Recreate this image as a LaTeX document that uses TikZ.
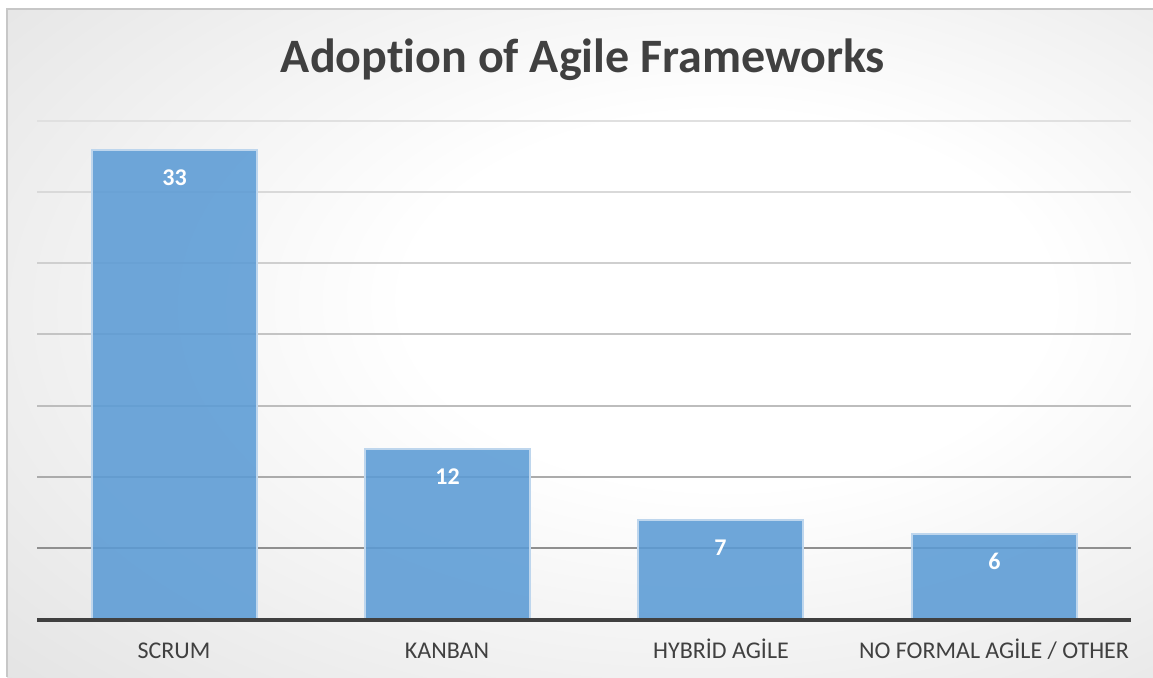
\documentclass[tikz,border=0pt]{standalone}
\usepackage{fontspec}
\setmainfont{Carlito}[Ligatures=NoCommon]
\usepackage{tikz}
\definecolor{barblue}{RGB}{91,155,213}
\definecolor{baredge}{RGB}{190,214,237}
\definecolor{textgray}{RGB}{64,64,64}
\definecolor{axisgray}{RGB}{64,64,64}
\pgfdeclareradialshading{chartglow}{\pgfpoint{8bp}{4bp}}{color(0bp)=(white); color(14bp)=(white); color(72bp)=(black!24)}
\tikzset{
	bar/.style={fill=barblue, fill opacity=0.88, draw=baredge, line width=0.6},
	gridline/.style={line width=0.8},
	vallabel/.style={text=white, font=\fontsize{12}{14}\selectfont\bfseries, anchor=base},
	catlabel/.style={text=textgray, font=\fontsize{12}{14}\selectfont, anchor=base},
}

\begin{document}
\begin{tikzpicture}[x=0.5pt, y=-0.5pt]
		%%%%% START %%%%%
		\useasboundingbox (0, 0) rectangle (1153, 677);
		\fill[white] (0, 0) rectangle (1153, 677);
		
		% chart area
		\shade[shading=chartglow] (7, 9) rectangle (1153, 677);
		\draw[line width=1, color=black!22] (7, 677) -- (7, 9) -- (1153, 9);
		
		% gridlines, darker towards the axis
		\foreach \y/\shadeval in {121/12, 192/15, 263/19, 334/23, 406/26, 477/33, 548/44}
			\draw[gridline, color=black!\shadeval] (37, \y) -- (1131, \y);
		
		% bars
		\foreach \x/\top/\val/\name in {92/150/33/scrum, 365/449/12/kanban, 638/520/7/hybrid, 912/534/6/noformal} {
			\draw[bar] (\x, 620) rectangle (\x+165, \top);
			\node[vallabel] (val-\name) at (\x+82.5, \top+35) {\val};
		}
		
		% axis
		\draw[line width=1.6, color=axisgray] (37, 620) -- (1131, 620);
		
		% category labels
		\node[catlabel] (cat-scrum) at (174, 658) {SCRUM};
		\node[catlabel] (cat-kanban) at (447, 658) {KANBAN};
		\node[catlabel] (cat-hybrid) at (721, 658) {HYBRİD AGİLE};
		\node[catlabel] (cat-noformal) at (994, 658) {NO FORMAL AGİLE / OTHER};
		
		% title
		\node[text=textgray, font=\fontsize{24}{29}\selectfont\bfseries] (title) at (583, 60) {Adoption of Agile Frameworks};
		%%%%% END %%%%%
	\end{tikzpicture}
\end{document}
